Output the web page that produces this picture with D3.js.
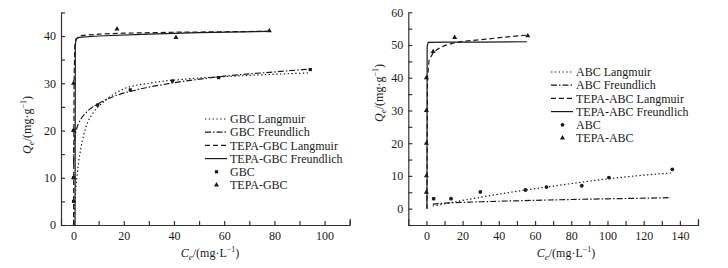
<!DOCTYPE html>
<html>
<head>
<meta charset="utf-8">
<script src="https://cdn.jsdelivr.net/npm/d3@7"></script>
<style>
  body { margin: 0; background: #fff; }
  svg { display: block; font-family: "Liberation Serif", "Times New Roman", serif; }
  text { fill: #1a1a1a; }
</style>
</head>
<body>
<svg id="chart" width="728" height="268"></svg>
<script>
// ---- left panel (GBC) ----
const gbcC = [0, 0, 0, 9.6, 22.6, 39.4, 57.8, 94.3];
const gbcQ = [5, 10, 20, 25.4, 28.6, 30.5, 31.2, 32.9];
const tepaGbcC = [0, 0, 0, 17.3, 40.8, 78];
const tepaGbcQ = [10, 20, 30, 41.5, 39.7, 41.1];

const gbcLangC = [0, 0.5, 1, 2, 3, 5, 8, 12, 20, 30, 45, 60, 80, 94];
const gbcLangQ = [0, 4.8, 8.3, 13.2, 16.5, 20.8, 23.9, 26.1, 28.8, 30.0, 30.9, 31.4, 31.9, 32.2];
const gbcFreuC = [0.02, 0.1, 0.3, 0.6, 1, 2, 3, 5, 9.6, 15, 25, 40, 60, 80, 94];
const gbcFreuQ = [12.9, 15.4, 17.4, 18.8, 19.9, 21.5, 22.5, 23.8, 25.6, 27.0, 28.6, 30.1, 31.5, 32.4, 33.0];
const tepaGbcLangC = [0, 0.2, 0.5, 1, 3, 10, 20, 40, 60, 78];
const tepaGbcLangQ = [0, 30, 38, 39.4, 40.1, 40.4, 40.6, 40.8, 40.9, 41.0];
const tepaGbcFreuC = [0.6, 0.7, 1, 2, 10, 30, 50, 78];
const tepaGbcFreuQ = [0, 38, 39.3, 39.7, 40.0, 40.4, 40.7, 41.0];

// ---- right panel (ABC) ----
const abcC = [4.0, 13.6, 29.8, 54.7, 66.3, 85.8, 100.8, 135.8];
const abcQ = [3.05, 3.05, 5.1, 5.7, 6.6, 7.0, 9.5, 12.0];
const tepaAbcC = [0, 0, 0, 0, 0, 3.7, 15.6, 56];
const tepaAbcQ = [5, 10, 20, 30, 40, 48.0, 52.3, 52.8];

const abcLangC = [3.5, 13, 30, 50, 70, 90, 110, 135];
const abcLangQ = [0.8, 1.8, 3.5, 5.3, 6.9, 8.4, 9.7, 10.9];
const abcFreuC = [3.5, 8, 15, 30, 50, 80, 110, 135];
const abcFreuQ = [1.4, 1.6, 1.8, 2.1, 2.4, 2.8, 3.1, 3.35];
const tepaAbcLangC = [0.3, 0.6, 1.5, 3.7, 6, 10, 14.7, 20, 33, 45, 55.5];
const tepaAbcLangQ = [0, 40, 45.5, 47.6, 48.7, 49.8, 50.6, 51.1, 51.8, 52.5, 53.0];
const tepaAbcFreuC = [0.3, 0.4, 1, 10, 30, 55.5];
const tepaAbcFreuQ = [0, 49.5, 50.8, 50.9, 50.9, 51.0];

const gbcLegend = ["GBC Langmuir", "GBC Freundlich", "TEPA-GBC Langmuir", "TEPA-GBC Freundlich", "GBC", "TEPA-GBC"];
const abcLegend = ["ABC Langmuir", "ABC Freundlich", "TEPA-ABC Langmuir", "TEPA-ABC Freundlich", "ABC", "TEPA-ABC"];

const INK = "#1a1a1a";
const styles = {
    langmuir: "1.4,2.4",
    freundlich: "6,2,1.5,2",
    tepaLangmuir: "5,3",
    tepaFreundlich: null
};

const svg = d3.select("#chart");
svg.append("rect").attr("width", 728).attr("height", 268).attr("fill", "#fff");

const zip = (xs, ys) => xs.map((x, i) => [x, ys[i]]);

// small filled square or dot for the plain-char series
function addDot(sel, shape) {
    if (shape === "circle") {
        return sel.append("circle").attr("r", 1.9).attr("fill", INK);
    }
    return sel.append("rect").attr("x", -1.6).attr("y", -1.6)
        .attr("width", 3.2).attr("height", 3.2).attr("fill", INK);
}

function drawPanel(opt) {
    const g = svg.append("g");
    const x = d3.scaleLinear().domain(opt.xDomain).range(opt.xRange);
    const y = d3.scaleLinear().domain(opt.yDomain).range(opt.yRange);

    const xAxis = d3.axisBottom(x)
        .tickValues(opt.xTicks)
        .tickSizeInner(-4)
        .tickSizeOuter(-6)
        .tickPadding(6)
        .tickFormat(d => d % 20 === 0 ? d : "");
    const gx = g.append("g").attr("transform", `translate(0,${opt.yRange[0]})`).call(xAxis);

    const yAxis = d3.axisLeft(y)
        .tickValues(opt.yTicks)
        .tickSizeInner(-4)
        .tickSizeOuter(0)
        .tickPadding(5)
        .tickFormat(d => d % 10 === 0 ? d : "");
    const gy = g.append("g").attr("transform", `translate(${opt.xRange[0]},0)`).call(yAxis);

    [gx, gy].forEach(a => {
        a.selectAll("path, line").attr("stroke", "#333").attr("stroke-width", 1.2);
        a.selectAll("text").attr("font-family", "Liberation Serif").attr("font-size", 12).attr("fill", INK);
    });

    const line = d3.line().x(d => x(d[0])).y(d => y(d[1])).curve(d3.curveMonotoneX);
    const lineLin = d3.line().x(d => x(d[0])).y(d => y(d[1]));

    opt.curves.forEach(c => {
        g.append("path")
            .attr("d", (c.linear ? lineLin : line)(zip(c.xs, c.ys)))
            .attr("fill", "none")
            .attr("stroke", INK)
            .attr("stroke-width", 1.2)
            .attr("stroke-dasharray", c.dash);
    });

    // points
    zip(opt.dotC, opt.dotQ).forEach(d => {
        const p = g.append("g").attr("transform", `translate(${x(d[0])},${y(d[1])})`);
        addDot(p, opt.dotShape);
    });
    const tri = d3.symbol().type(d3.symbolTriangle).size(11);
    g.selectAll(null).data(zip(opt.triC, opt.triQ)).join("path")
        .attr("d", tri)
        .attr("transform", d => `translate(${x(d[0])},${y(d[1])})`)
        .attr("fill", INK);

    // legend
    const lg = g.append("g").attr("transform", `translate(${opt.legend[0]},${opt.legend[1]})`);
    const dashes = [styles.langmuir, styles.freundlich, styles.tepaLangmuir, styles.tepaFreundlich];
    opt.legendNames.forEach((name, i) => {
        const yy = i * 13.2;
        if (i < 4) {
            lg.append("line").attr("x1", 0).attr("x2", 22).attr("y1", yy).attr("y2", yy)
                .attr("stroke", INK).attr("stroke-width", 1.2).attr("stroke-dasharray", dashes[i]);
        } else if (i === 4) {
            addDot(lg.append("g").attr("transform", `translate(11.5,${yy})`), opt.dotShape);
        } else {
            lg.append("path").attr("d", tri).attr("transform", `translate(11.5,${yy})`).attr("fill", INK);
        }
        lg.append("text").attr("x", 25).attr("y", yy).attr("dy", "0.35em")
            .attr("font-size", 12).text(name);
    });

    // axis titles
    const xt = svg.append("text").attr("x", opt.xTitle[0]).attr("y", opt.xTitle[1])
        .attr("text-anchor", "middle").attr("font-size", 12);
    xt.append("tspan").attr("font-style", "italic").text("C");
    xt.append("tspan").attr("font-style", "italic").attr("font-size", 9).attr("dy", 3).text("e");
    xt.append("tspan").attr("dy", -3).text("/(mg·L");
    xt.append("tspan").attr("font-size", 8).attr("dy", -5).text("−1");
    xt.append("tspan").attr("dy", 5).text(")");

    const yt = svg.append("text")
        .attr("transform", `translate(${opt.yTitle[0]},${opt.yTitle[1]}) rotate(-90)`)
        .attr("text-anchor", "middle").attr("font-size", 12);
    yt.append("tspan").attr("font-style", "italic").text("Q");
    yt.append("tspan").attr("font-style", "italic").attr("font-size", 9).attr("dy", 3).text("e");
    yt.append("tspan").attr("dy", -3).text("/(mg·g");
    yt.append("tspan").attr("font-size", 8).attr("dy", -5).text("−1");
    yt.append("tspan").attr("dy", 5).text(")");
}

drawPanel({
    xDomain: [-5, 110], xRange: [61, 349.7],
    yDomain: [0, 45], yRange: [225, 12.4],
    xTicks: d3.range(0, 111, 10),
    yTicks: d3.range(0, 46, 5),
    curves: [
        { xs: gbcLangC, ys: gbcLangQ, dash: styles.langmuir },
        { xs: gbcFreuC, ys: gbcFreuQ, dash: styles.freundlich },
        { xs: tepaGbcLangC, ys: tepaGbcLangQ, dash: styles.tepaLangmuir, linear: true },
        { xs: tepaGbcFreuC, ys: tepaGbcFreuQ, dash: styles.tepaFreundlich, linear: true }
    ],
    dotC: gbcC, dotQ: gbcQ, dotShape: "square", triC: tepaGbcC, triQ: tepaGbcQ,
    legend: [205, 119], legendNames: gbcLegend,
    xTitle: [210, 257], yTitle: [31, 125]
});

drawPanel({
    xDomain: [-10, 150], xRange: [408.3, 698],
    yDomain: [-5, 60], yRange: [225, 12.3],
    xTicks: d3.range(0, 151, 10),
    yTicks: d3.range(-5, 61, 5),
    curves: [
        { xs: abcLangC, ys: abcLangQ, dash: styles.langmuir },
        { xs: abcFreuC, ys: abcFreuQ, dash: styles.freundlich },
        { xs: tepaAbcLangC, ys: tepaAbcLangQ, dash: styles.tepaLangmuir, linear: true },
        { xs: tepaAbcFreuC, ys: tepaAbcFreuQ, dash: styles.tepaFreundlich, linear: true }
    ],
    dotC: abcC, dotQ: abcQ, dotShape: "circle", triC: tepaAbcC, triQ: tepaAbcQ,
    legend: [551, 72], legendNames: abcLegend,
    xTitle: [566, 257], yTitle: [383, 93]
});
</script>
</body>
</html>
